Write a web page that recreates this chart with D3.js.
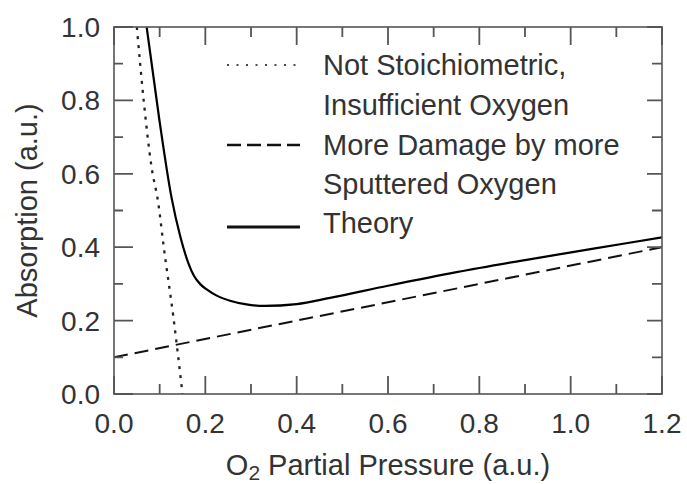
<!DOCTYPE html>
<html>
<head>
<meta charset="utf-8">
<script src="https://cdn.jsdelivr.net/npm/d3@7"></script>
<style>
html,body{margin:0;padding:0;background:#fff;}
svg{display:block;}
text{font-family:"Liberation Sans",Arial,Helvetica,sans-serif;fill:#333;}
</style>
</head>
<body>
<svg id="chart" width="687" height="484"></svg>
<script>
// ---- data ----
const xTicks = [0.0, 0.2, 0.4, 0.6, 0.8, 1.0, 1.2];
const yTicks = [0.0, 0.2, 0.4, 0.6, 0.8, 1.0];
const xMinor = [0.1, 0.3, 0.5, 0.7, 0.9, 1.1];
const yMinor = [0.1, 0.3, 0.5, 0.7, 0.9];

const theoryX = [0.0715, 0.099, 0.126, 0.145, 0.163, 0.175, 0.19, 0.203, 0.225, 0.254, 0.29, 0.33, 0.40, 0.473, 0.6, 0.75, 0.9, 1.05, 1.2];
const theoryY = [1.0, 0.75, 0.535, 0.43, 0.356, 0.322, 0.298, 0.285, 0.268, 0.254, 0.244, 0.240, 0.245, 0.262, 0.295, 0.332, 0.365, 0.396, 0.427];

const notStoichX = [0.05, 0.065, 0.082, 0.097, 0.109, 0.13, 0.15];
const notStoichY = [1.0, 0.8, 0.62, 0.52, 0.40, 0.21, 0.0];

const damageX = [0.0, 1.2];
const damageY = [0.10, 0.40];

const legendLabels = [
  ["Not Stoichiometric,", "Insufficient Oxygen"],
  ["More Damage by more", "Sputtered Oxygen"],
  ["Theory"]
];
const xTitle = ["O", "2", " Partial Pressure (a.u.)"];
const yTitle = "Absorption (a.u.)";

// ---- layout ----
const svg = d3.select("#chart");
const L = 114, R = 662, T = 27, B = 394;
const x = d3.scaleLinear().domain([0, 1.2]).range([L, R]);
const y = d3.scaleLinear().domain([0, 1.0]).range([B, T]);
const axisColor = "#555555";

svg.append("defs").append("clipPath").attr("id", "clip")
  .append("rect").attr("x", L).attr("y", T).attr("width", R - L).attr("height", B - T);

const zip = (a, b) => a.map((v, i) => [v, b[i]]);

const line = d3.line().x(d => x(d[0])).y(d => y(d[1])).curve(d3.curveMonotoneX);
const plot = svg.append("g").attr("clip-path", "url(#clip)");

plot.append("path").datum(zip(damageX, damageY))
  .attr("d", line).attr("fill", "none").attr("stroke", "#111")
  .attr("stroke-width", 2).attr("stroke-dasharray", "14,7");

plot.append("path").datum(zip(notStoichX, notStoichY))
  .attr("d", line).attr("fill", "none").attr("stroke", "#222")
  .attr("stroke-width", 2.3).attr("stroke-dasharray", "3,6");

plot.append("path").datum(zip(theoryX, theoryY))
  .attr("d", line).attr("fill", "none").attr("stroke", "#000")
  .attr("stroke-width", 2.2);

// ---- frame ----
svg.append("rect").attr("x", L).attr("y", T).attr("width", R - L).attr("height", B - T)
  .attr("fill", "none").attr("stroke", axisColor).attr("stroke-width", 1.6);

// ---- ticks (inward, all four sides) as one path ----
const p = d3.path();
function xTickMarks(vals, len) {
  vals.forEach(v => {
    p.moveTo(x(v), B); p.lineTo(x(v), B - len);
    p.moveTo(x(v), T); p.lineTo(x(v), T + len);
  });
}
function yTickMarks(vals, lenL, lenR) {
  vals.forEach(v => {
    p.moveTo(L, y(v)); p.lineTo(L + lenL, y(v));
    p.moveTo(R, y(v)); p.lineTo(R - lenR, y(v));
  });
}
xTickMarks(xTicks, 18);
xTickMarks(xMinor, 10);
yTickMarks(yTicks, 19, 15);
yTickMarks(yMinor, 9, 10);
svg.append("path").attr("d", p.toString())
  .attr("fill", "none").attr("stroke", axisColor).attr("stroke-width", 1.8);

// ---- tick labels ----
const fmt = d3.format(".1f");
svg.append("g").selectAll("text").data(xTicks).join("text")
  .attr("x", d => x(d)).attr("y", 433).attr("text-anchor", "middle")
  .style("font-size", "28px").text(fmt);
svg.append("g").selectAll("text").data(yTicks).join("text")
  .attr("x", 100).attr("y", d => y(d) + 10).attr("text-anchor", "end")
  .style("font-size", "28px").text(fmt);

// ---- titles ----
const xt = svg.append("text").attr("x", (L + R) / 2).attr("y", 475)
  .attr("text-anchor", "middle").style("font-size", "29px");
xt.append("tspan").text(xTitle[0]);
xt.append("tspan").attr("dy", 5).style("font-size", "21px").text(xTitle[1]);
xt.append("tspan").attr("dy", -5).text(xTitle[2]);

svg.append("text").attr("transform", `translate(37,${(T + B) / 2}) rotate(-90)`)
  .attr("text-anchor", "middle").style("font-size", "29px").text(yTitle);

// ---- legend ----
const lg = svg.append("g");
const lx0 = 227, lx1 = 300, tx = 323;
const baselines = [[75, 115], [155, 194], [233]];
const sampleY = [65, 145, 227];
const sampleStyle = [
  {dash: "2,7.5", w: 1.5},
  {dash: "14,6", w: 2.4},
  {dash: null, w: 3}
];
legendLabels.forEach((lines, i) => {
  const l = lg.append("line").attr("x1", lx0).attr("x2", lx1)
    .attr("y1", sampleY[i]).attr("y2", sampleY[i])
    .attr("stroke", "#111").attr("stroke-width", sampleStyle[i].w);
  if (sampleStyle[i].dash) l.attr("stroke-dasharray", sampleStyle[i].dash);
  lines.forEach((t, j) => {
    lg.append("text").attr("x", tx).attr("y", baselines[i][j])
      .style("font-size", "29px").text(t);
  });
});
</script>
</body>
</html>
